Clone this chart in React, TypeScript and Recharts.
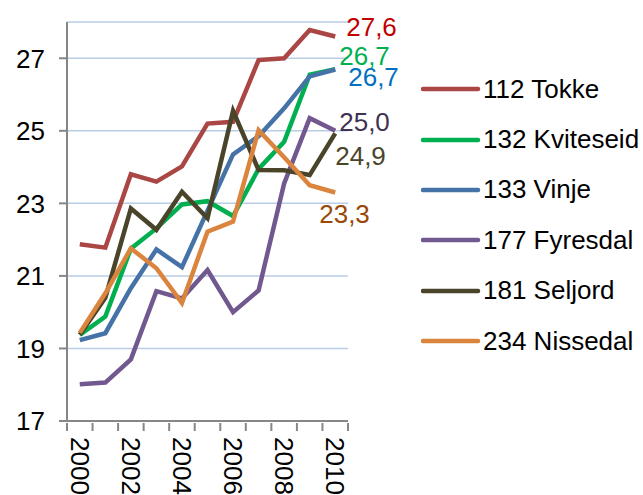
import React from 'react';
import { LineChart, Line, XAxis, YAxis, CartesianGrid, LabelList } from 'recharts';

const years = [2000, 2001, 2002, 2003, 2004, 2005, 2006, 2007, 2008, 2009, 2010];

const tokke = [21.87, 21.78, 23.8, 23.6, 24.02, 25.2, 25.25, 26.95, 27.0, 27.78, 27.6];
const kviteseid = [19.37, 19.88, 21.75, 22.31, 22.97, 23.06, 22.65, 23.95, 24.7, 26.55, 26.7];
const vinje = [19.23, 19.42, 20.66, 21.73, 21.24, 22.8, 24.35, 24.85, 25.62, 26.5, 26.69];
const fyresdal = [18.01, 18.06, 18.7, 20.58, 20.38, 21.16, 20.0, 20.6, 23.55, 25.35, 25.0];
const seljord = [19.38, 20.4, 22.86, 22.27, 23.32, 22.59, 25.55, 23.92, 23.91, 23.78, 24.93];
const nissedal = [19.43, 20.52, 21.76, 21.21, 20.25, 22.22, 22.5, 25.02, 24.27, 23.5, 23.3];

const yTicks = [17, 19, 21, 23, 25, 27];
const xLabelYears = [2000, 2002, 2004, 2006, 2008, 2010];
const xBoundaries = [1999.5, 2000.5, 2001.5, 2002.5, 2003.5, 2004.5, 2005.5, 2006.5, 2007.5, 2008.5, 2009.5, 2010.5];

const FONT = '"Liberation Sans", Arial, sans-serif';
const FS = 26;
const AXIS = '#868686';

const data = years.map((year, i) => ({
  year,
  tokke: tokke[i],
  kviteseid: kviteseid[i],
  vinje: vinje[i],
  fyresdal: fyresdal[i],
  seljord: seljord[i],
  nissedal: nissedal[i],
}));

const series = [
  { key: 'tokke', name: '112 Tokke', color: '#AA4643', label: '#C00000', dx: 11, dy: -10 },
  { key: 'kviteseid', name: '132 Kviteseid', color: '#00B050', label: '#00B050', dx: 4, dy: -13 },
  { key: 'vinje', name: '133 Vinje', color: '#4572A7', label: '#0070C0', dx: 13, dy: 7 },
  { key: 'fyresdal', name: '177 Fyresdal', color: '#71588F', label: '#403152', dx: 4, dy: -9 },
  { key: 'seljord', name: '181 Seljord', color: '#4A452A', label: '#4A452A', dx: 0, dy: 23 },
  { key: 'nissedal', name: '234 Nissedal', color: '#DB843D', label: '#984807', dx: -16, dy: 22 },
];

const xTicks = [...xBoundaries, ...xLabelYears].sort((a, b) => a - b);

const fmt = (v: number) => v.toFixed(1).replace('.', ',');

const XTick = (props: any) => {
  const { x, y, payload } = props;
  const v = payload.value;
  if (!xLabelYears.includes(v)) {
    return <line x1={x} x2={x} y1={y} y2={y + 8} stroke={AXIS} strokeWidth={2} />;
  }
  return (
    <text
      x={0}
      y={0}
      transform={`translate(${x},${y + 14}) rotate(90)`}
      textAnchor="start"
      dominantBaseline="central"
      fontSize={FS}
      fontFamily={FONT}
      fill="#000"
    >
      {v}
    </text>
  );
};

const endLabel = (s: (typeof series)[number]) => (props: any) => {
  const { x, y, value, index } = props;
  if (index !== years.length - 1) return null;
  return (
    <text
      x={x + s.dx}
      y={y + s.dy}
      textAnchor="start"
      dominantBaseline="central"
      fontSize={FS}
      fontFamily={FONT}
      fill={s.label}
    >
      {fmt(value)}
    </text>
  );
};

export default function App() {
  return (
    <div style={{ position: 'absolute', left: 0, top: 0, width: 643, height: 495, background: '#fff' }}>
      <LineChart width={643} height={495} data={data} margin={{ top: 22, right: 295, bottom: 0, left: 0 }}>
        <CartesianGrid vertical={false} stroke="#B9CDE5" strokeWidth={1.5} />
        <XAxis
          type="number"
          dataKey="year"
          domain={[1999.5, 2010.5]}
          ticks={xTicks}
          tick={<XTick />}
          tickLine={false}
          tickSize={0}
          height={74}
          axisLine={{ stroke: AXIS, strokeWidth: 2 }}
          interval={0}
        />
        <YAxis
          domain={[17, 28]}
          ticks={yTicks}
          width={67}
          tickSize={8}
          tickMargin={14}
          tickLine={{ stroke: AXIS, strokeWidth: 2 }}
          axisLine={{ stroke: AXIS, strokeWidth: 2 }}
          tick={{ fontSize: FS, fontFamily: FONT, fill: '#000' }}
          allowDataOverflow
        />
        {series.map((s) => (
          <Line
            key={s.key}
            dataKey={s.key}
            name={s.name}
            stroke={s.color}
            strokeWidth={4.5}
            dot={false}
            activeDot={false}
            isAnimationActive={false}
          >
            <LabelList dataKey={s.key} content={endLabel(s)} />
          </Line>
        ))}
      </LineChart>
      <div style={{ position: 'absolute', left: 421, top: 64, fontFamily: FONT, fontSize: FS, color: '#000' }}>
        {series.map((s) => (
          <div key={s.key} style={{ height: 50.4, display: 'flex', alignItems: 'center', whiteSpace: 'nowrap' }}>
            <svg width={62} height={10} style={{ display: 'block' }}>
              <line x1={2} x2={57} y1={5} y2={5} stroke={s.color} strokeWidth={4.5} strokeLinecap="round" />
            </svg>
            <span>{s.name}</span>
          </div>
        ))}
      </div>
    </div>
  );
}
